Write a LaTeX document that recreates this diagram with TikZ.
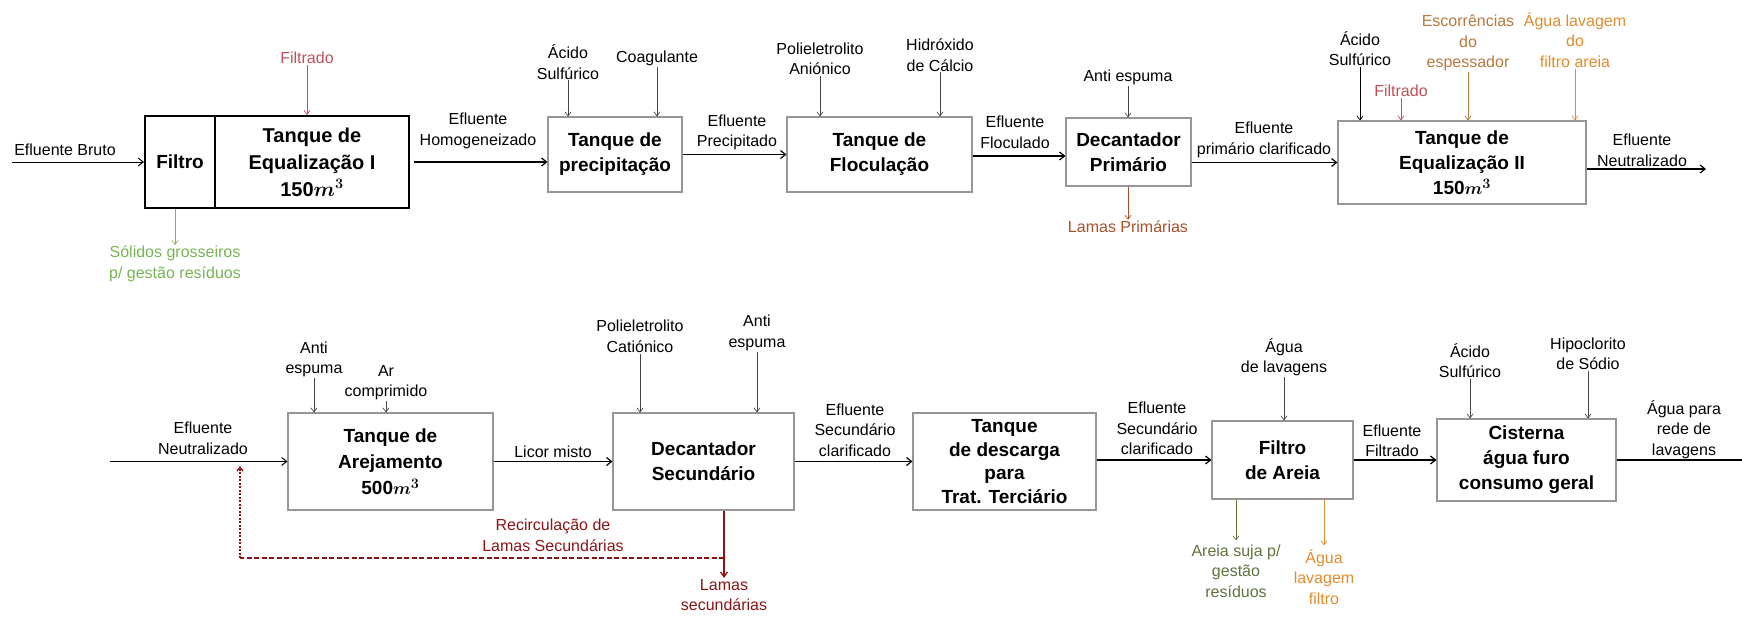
\documentclass[tikz,border=0pt]{standalone}
\usepackage{fontspec}
\setmainfont{Liberation Sans}
\usepackage{amsmath}
\usepackage{bm}
\usetikzlibrary{arrows.meta}
\definecolor{boxgray}{RGB}{150,150,150}
\definecolor{feedgray}{RGB}{70,70,70}
\definecolor{filtcol}{RGB}{192,80,90}
\definecolor{solcol}{RGB}{120,180,85}
\definecolor{lamacol}{RGB}{170,80,40}
\definecolor{escocol}{RGB}{185,120,60}
\definecolor{aguacol}{RGB}{225,140,45}
\definecolor{areiacol}{RGB}{95,115,60}
\definecolor{recol}{RGB}{140,20,20}
\begin{document}
\begin{tikzpicture}[x=1pt,y=-1pt,
  lbl/.style={font=\fontsize{16}{20.5}\selectfont, align=center, inner sep=1pt},
  box/.style={draw=boxgray, line width=1.1pt, font=\fontsize{19}{25}\selectfont\bfseries, align=center, inner sep=0pt},
  thickbox/.style={box, draw=black, line width=2pt},
  flow/.style={-{Straight Barb[length=5pt,width=8pt]}, line width=1.2pt},
  feed/.style={-{Straight Barb[length=4pt,width=6pt]}, line width=0.7pt, draw=feedgray},
  cfeed/.style={-{Straight Barb[length=4pt,width=6pt]}, line width=0.7pt}
]
\useasboundingbox (0,0) rectangle (1742,616);

% ---------------- top row ----------------
\node[lbl] (bruto) at (65,150) {Efluente Bruto};
\coordinate (brutoIn) at (12,162);
\node[thickbox, minimum width=70, minimum height=92] (filtro) at (180,162) {Filtro};
\node[thickbox, minimum width=194, minimum height=92, font=\fontsize{20}{27}\selectfont\bfseries] (eq1) at (312,162) {Tanque de\\Equalização I\\150$\bm{m}^{\bm{3}}$};
\draw[flow, line width=1pt] (brutoIn) -- (filtro.west);

\node[lbl, text=filtcol] (filt1) at (307,58) {Filtrado};
\draw[cfeed, draw=filtcol] (filt1.south) -- (filt1.south |- eq1.north);

\node[lbl, text=solcol] (sol) at (175,264) {Sólidos grosseiros\\p/ gestão resíduos};
\draw[cfeed, draw=solcol] (sol.north |- filtro.south) -- (sol.north);

\node[box, minimum width=134, minimum height=75] (precip) at (615,154.5) {Tanque de\\precipitação};
\node[lbl] (homog) at (478,131) {Efluente\\Homogeneizado};
\draw[flow] ([xshift=4]eq1.east) -- (eq1.east -| precip.west);

\node[lbl] (acs1) at (568,62) {Ácido\\Sulfúrico};
\draw[feed] (acs1.south) -- (acs1.south |- precip.north);
\node[lbl] (coag) at (657,58) {Coagulante};
\draw[feed] (coag.south) -- (coag.south |- precip.north);

\node[box, minimum width=185, minimum height=75] (floc) at (879.5,154.5) {Tanque de\\Floculação};
\node[lbl] (efprec) at (737,132.5) {Efluente\\Precipitado};
\draw[flow] (precip.east) -- (precip.east -| floc.west);

\node[lbl] (polian) at (820,59) {Polieletrolito\\Aniónico};
\draw[feed] (polian.south) -- (polian.south |- floc.north);
\node[lbl] (hidrox) at (940,55) {Hidróxido\\de Cálcio};
\draw[feed] (hidrox.south) -- (hidrox.south |- floc.north);

\node[box, minimum width=125, minimum height=68] (decp) at (1128.5,152) {Decantador\\Primário};
\node[lbl] (effloc) at (1015,132.5) {Efluente\\Floculado};
\draw[flow] (floc.east |- 0,156) -- (decp.west |- 0,156);

\node[lbl] (anti1) at (1128,77) {Anti espuma};
\draw[feed] (anti1.south) -- (anti1.south |- decp.north);
\node[lbl, text=lamacol] (lamap) at (1128,227) {Lamas Primárias};
\draw[cfeed, draw=lamacol] (lamap.north |- decp.south) -- (lamap.north);

\node[box, minimum width=248, minimum height=83] (eq2) at (1462,162.5) {Tanque de\\Equalização II\\150$\bm{m}^{\bm{3}}$};
\node[lbl] (efprim) at (1264,140) {Efluente\\primário clarificado};
\draw[flow] (decp.east |- eq2.west) -- (eq2.west);

\node[lbl] (acs2) at (1360,48.5) {Ácido\\Sulfúrico};
\draw[feed, draw=black] (acs2.south) -- (acs2.south |- eq2.north);
\node[lbl, text=filtcol] (filt2) at (1401,91) {Filtrado};
\draw[cfeed, draw=filtcol] (filt2.south) -- (filt2.south |- eq2.north);
\node[lbl, text=escocol] (esco) at (1468,43) {Escorrências\\do\\espessador};
\draw[cfeed, draw=escocol] (esco.south) -- (esco.south |- eq2.north);
\node[lbl, text=aguacol] (aglav) at (1575,40) {Água lavagem\\do\\filtro areia};
\draw[cfeed, draw=aguacol] (aglav.south) -- (aglav.south |- eq2.north);

\node[lbl] (efneut1) at (1642,150.5) {Efluente\\Neutralizado};
\coordinate (neutOut) at (1706,169);
\draw[flow] (eq2.east |- neutOut) -- (neutOut);

% ---------------- bottom row ----------------
\node[box, minimum width=205, minimum height=97, font=\fontsize{19}{26}\selectfont\bfseries] (arej) at (390.5,461.5) {Tanque de\\Arejamento\\500$\bm{m}^{\bm{3}}$};
\node[lbl] (efneut2) at (203,438.5) {Efluente\\Neutralizado};
\coordinate (neutIn) at (110,461.5);
\draw[flow, line width=1pt] (neutIn) -- (arej.west);

\node[lbl] (anti2) at (314,359.5) {Anti\\espuma};
\draw[feed] (anti2.south) -- (anti2.south |- arej.north);
\node[lbl] (ar) at (386,382.5) {Ar\\comprimido};
\draw[feed] (ar.south) -- (ar.south |- arej.north);

\node[box, minimum width=181, minimum height=97] (decs) at (703.5,461.5) {Decantador\\Secundário};
\node[lbl] (licor) at (553,452) {Licor misto};
\draw[flow] (arej.east) -- (decs.west);

\node[lbl] (polcat) at (640,336.5) {Polieletrolito\\Catiónico};
\draw[feed] (polcat.south) -- (polcat.south |- decs.north);
\node[lbl] (anti3) at (757,333) {Anti\\espuma};
\draw[feed] (anti3.south) -- (anti3.south |- decs.north);

\node[lbl, text=recol] (lamas) at (724,595) {Lamas\\secundárias};
\draw[-{Straight Barb[length=5pt,width=7pt]}, line width=1.3pt, draw=recol] (lamas.north |- decs.south) -- (lamas.north);
\node[lbl, text=recol] (recirc) at (553,535.5) {Recirculação de\\Lamas Secundárias};
\coordinate (rjoin) at (724,558);
\coordinate (rcorner) at (240,558);
\draw[line width=1.3pt, draw=recol, dash pattern=on 5pt off 2.5pt] (rjoin) -- (rcorner);
\draw[-{Straight Barb[length=4pt,width=6pt]}, line width=1.3pt, draw=recol, dash pattern=on 2pt off 1.5pt] (rcorner) -- (rcorner |- 0,466);

\node[box, minimum width=183, minimum height=97, font=\fontsize{19}{23.5}\selectfont\bfseries] (desc) at (1004.5,461.5) {Tanque\\de descarga\\para\\Trat. Terciário};
\node[lbl] (efsec1) at (855,430) {Efluente\\Secundário\\clarificado};
\draw[flow] (decs.east) -- (desc.west);

\node[box, minimum width=141, minimum height=78] (fila) at (1282.5,460) {Filtro\\de Areia};
\node[lbl] (efsec2) at (1157,428.5) {Efluente\\Secundário\\clarificado};
\draw[flow] (desc.east |- fila.west) -- (fila.west);

\node[lbl] (aglavs) at (1284,357) {Água\\de lavagens};
\draw[feed] (aglavs.south) -- (aglavs.south |- fila.north);
\node[lbl, text=areiacol] (areia) at (1236,571) {Areia suja p/\\gestão\\resíduos};
\draw[cfeed, draw=areiacol] (areia.north |- fila.south) -- ([yshift=3]areia.north);
\node[lbl, text=aguacol] (aglavf) at (1324,577) {Água\\lavagem\\filtro};
\draw[cfeed, draw=aguacol] (aglavf.north |- fila.south) -- ([yshift=3]aglavf.north);

\node[box, minimum width=179, minimum height=82] (cist) at (1526.5,460) {Cisterna\\água furo\\consumo geral};
\node[lbl] (effil) at (1392,441) {Efluente\\Filtrado};
\draw[flow] (fila.east) -- (cist.west);

\node[lbl] (acs3) at (1470,360.5) {Ácido\\Sulfúrico};
\draw[feed] (acs3.south) -- (acs3.south |- cist.north);
\node[lbl] (hipo) at (1588,354) {Hipoclorito\\de Sódio};
\draw[feed] (hipo.south) -- (hipo.south |- cist.north);

\node[lbl] (agrede) at (1684,429.5) {Água para\\rede de\\lavagens};
\coordinate (redeOut) at (1742,460);
\draw[line width=1.2pt] (cist.east) -- (redeOut);
\end{tikzpicture}
\end{document}
